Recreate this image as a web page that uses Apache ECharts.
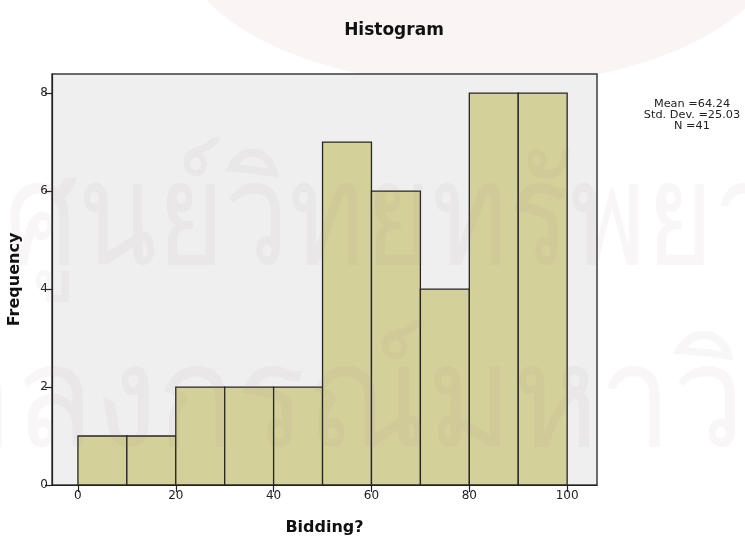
<!DOCTYPE html>
<html>
<head>
<meta charset="utf-8">
<script src="https://cdn.jsdelivr.net/npm/echarts@6/dist/echarts.min.js"></script>
<style>
  html, body { margin: 0; padding: 0; background: #ffffff; }
  #chart { width: 745px; height: 538px; }
</style>
</head>
<body>
<div id="chart"></div>
<script>
// Histogram of "Bidding?" responses, bins of width 10
const binStarts = [0, 10, 20, 30, 40, 50, 60, 70, 80, 90];
const binWidth = 10;
const frequencies = [1, 1, 2, 2, 2, 7, 6, 4, 8, 8];
const xTickValues = [0, 20, 40, 60, 80, 100];
const yTickValues = [0, 2, 4, 6, 8];
const statsLines = ['Mean =64.24', 'Std. Dev. =25.03', 'N =41'];
const watermarkLines = ['ศูนย์วิทยทรัพยากร', 'จุฬาลงกรณ์มหาวิทยาลัย'];

const FONT = '"DejaVu Sans", "Liberation Sans", sans-serif';
const WM_FILL = 'rgba(150,118,124,0.065)';

const binData = binStarts.map((s, i) => [s, s + binWidth, frequencies[i]]);

const chart = echarts.init(document.getElementById('chart'), null, { renderer: 'canvas' });

chart.setOption({
  backgroundColor: '#ffffff',
  animation: false,
  title: {
    text: 'Histogram',
    left: 389,
    top: 17,
    textAlign: 'center',
    textStyle: { fontFamily: FONT, fontSize: 17, fontWeight: 'bold', color: '#111' }
  },
  graphic: [
    // faint seal shape behind the page header
    {
      type: 'circle',
      z: -10,
      silent: true,
      x: 480,
      y: -60,
      scaleY: 146 / 300,
      shape: { cx: 0, cy: 0, r: 300 },
      style: { fill: '#FBF4F5' }
    },
    // watermark lettering laid over the page
    {
      type: 'text',
      z: 100,
      silent: true,
      x: 5,
      y: 151,
      scaleY: 1.25,
      style: {
        text: watermarkLines[0],
        font: '115px "Noto Sans", "DejaVu Sans", sans-serif',
        fill: WM_FILL,
        verticalAlign: 'top'
      }
    },
    {
      type: 'text',
      z: 100,
      silent: true,
      x: -224,
      y: 334,
      scaleY: 1.1,
      style: {
        text: watermarkLines[1],
        font: '130px "Noto Sans", "DejaVu Sans", sans-serif',
        fill: WM_FILL,
        verticalAlign: 'top'
      }
    },
    {
      type: 'text',
      x: 692,
      y: 99,
      style: {
        text: statsLines.join('\n'),
        font: '11.3px "DejaVu Sans", sans-serif',
        fill: '#222',
        align: 'center',
        verticalAlign: 'top',
        lineHeight: 11
      }
    }
  ],
  grid: {
    left: 52,
    right: 148,
    top: 74,
    bottom: 53,
    show: true,
    backgroundColor: '#EFEFEF',
    borderColor: '#3c3c3c',
    borderWidth: 1.5,
    containLabel: false,
    outerBoundsMode: 'none'
  },
  xAxis: {
    type: 'value',
    min: -5.3,
    max: 106.1,
    name: 'Bidding?',
    nameLocation: 'middle',
    nameGap: 35,
    nameTextStyle: { fontFamily: FONT, fontSize: 16, fontWeight: 'bold', color: '#111' },
    axisLine: { show: true, onZero: false, lineStyle: { color: '#222', width: 1.2 } },
    axisTick: { show: true, customValues: xTickValues, length: 7, inside: false, lineStyle: { color: '#222', width: 1.2 } },
    axisLabel: { customValues: xTickValues, fontFamily: FONT, fontSize: 12, color: '#222', margin: 5 },
    splitLine: { show: false }
  },
  yAxis: {
    type: 'value',
    min: 0,
    max: 8.39,
    name: 'Frequency',
    nameLocation: 'middle',
    nameGap: 29,
    nameRotate: 90,
    nameTextStyle: { fontFamily: FONT, fontSize: 16, fontWeight: 'bold', color: '#111' },
    axisLine: { show: true, onZero: false, lineStyle: { color: '#222', width: 1.2 } },
    axisTick: { show: true, customValues: yTickValues, length: 7, inside: false, lineStyle: { color: '#222', width: 1.2 } },
    axisLabel: { customValues: yTickValues, fontFamily: FONT, fontSize: 12, color: '#222', margin: 4 },
    splitLine: { show: false }
  },
  series: [
    {
      type: 'custom',
      data: binData,
      encode: { x: [0, 1], y: 2 },
      clip: true,
      renderItem: function (params, api) {
        const p0 = api.coord([api.value(0), 0]);
        const p1 = api.coord([api.value(1), api.value(2)]);
        return {
          type: 'rect',
          shape: { x: p0[0], y: p1[1], width: p1[0] - p0[0], height: p0[1] - p1[1] },
          style: { fill: '#D4D09A', stroke: '#262626', lineWidth: 1.3 }
        };
      }
    }
  ]
});
</script>
</body>
</html>
